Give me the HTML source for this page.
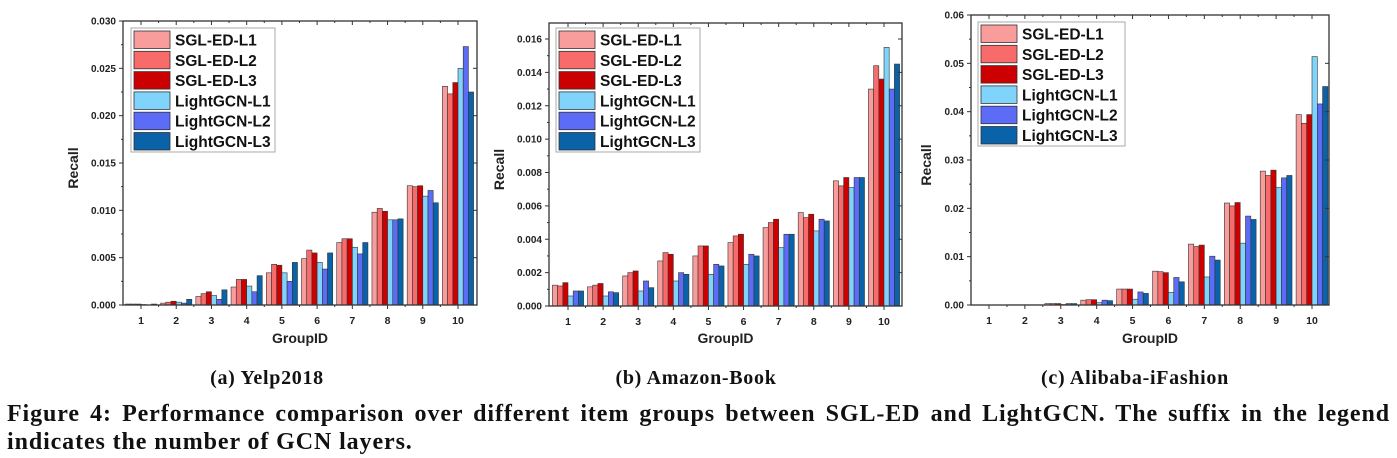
<!DOCTYPE html>
<html><head><meta charset="utf-8">
<style>
body{margin:0;background:#fff;width:1397px;height:458px;overflow:hidden;position:relative;font-family:"Liberation Sans",sans-serif}
svg{position:absolute;left:0;top:0}
.cap{position:absolute;transform:translateX(-50%);font-family:"Liberation Serif",serif;font-weight:bold;font-size:20px;letter-spacing:0.7px;color:#111;white-space:nowrap;line-height:22px}
.fig{position:absolute;left:7px;width:1383px;font-family:"Liberation Serif",serif;font-weight:bold;font-size:24px;letter-spacing:0.9px;color:#111;text-align:justify;text-align-last:justify;white-space:nowrap;line-height:26px}
</style></head><body>
<svg id="chart" width="1397" height="458"></svg>
<div class="cap" style="left:267px;top:367px">(a) Yelp2018</div>
<div class="cap" style="left:696px;top:367px">(b) Amazon-Book</div>
<div class="cap" style="left:1135px;top:367px">(c) Alibaba-iFashion</div>
<div class="fig" style="top:401px">Figure 4: Performance comparison over different item groups between SGL-ED and LightGCN. The suffix in the legend</div>
<div class="fig" style="top:429px;text-align-last:left;width:auto">indicates the number of GCN layers.</div>
<script>
const categories=["1","2","3","4","5","6","7","8","9","10"];
const seriesNames=["SGL-ED-L1","SGL-ED-L2","SGL-ED-L3","LightGCN-L1","LightGCN-L2","LightGCN-L3"];
const yelpValues=[
[0.0001,0.0002,0.0009,0.0019,0.0034,0.0049,0.0066,0.0098,0.0126,0.0231],
[0.0001,0.0003,0.0012,0.0027,0.0043,0.0058,0.0070,0.0102,0.0125,0.0223],
[0.0001,0.0004,0.0014,0.0027,0.0042,0.0055,0.0070,0.0099,0.0126,0.0235],
[0.00005,0.0003,0.0010,0.0020,0.0034,0.0045,0.0061,0.0090,0.0115,0.0250],
[0.00002,0.0002,0.0006,0.0014,0.0025,0.0038,0.0054,0.0090,0.0121,0.0273],
[0.0001,0.0006,0.0016,0.0031,0.0045,0.0055,0.0066,0.0091,0.0108,0.0225]];
const amazonValues=[
[0.00125,0.00115,0.0018,0.0027,0.0030,0.0038,0.0047,0.0056,0.0075,0.0130],
[0.0012,0.00125,0.0020,0.0032,0.0036,0.0042,0.0050,0.0053,0.0072,0.0144],
[0.0014,0.00135,0.0021,0.0031,0.0036,0.0043,0.0052,0.0055,0.0077,0.0136],
[0.0006,0.0006,0.0009,0.0015,0.0019,0.0025,0.0035,0.0045,0.0071,0.0155],
[0.0009,0.00085,0.0015,0.0020,0.0025,0.0031,0.0043,0.0052,0.0077,0.0130],
[0.0009,0.0008,0.0011,0.0019,0.0024,0.0030,0.0043,0.0051,0.0077,0.0145]];
const alibabaValues=[
[0,0.00005,0.0003,0.0010,0.0033,0.0070,0.0126,0.0211,0.0277,0.0394],
[0,0.00005,0.0003,0.0011,0.0033,0.0069,0.0121,0.0205,0.0268,0.0376],
[0,0.00005,0.0003,0.0011,0.0033,0.0067,0.0124,0.0212,0.0279,0.0394],
[0,0.00005,0.0001,0.0005,0.0012,0.0026,0.0058,0.0128,0.0243,0.0514],
[0,0.00005,0.0003,0.0010,0.0027,0.0057,0.0101,0.0184,0.0263,0.0416],
[0,0.00005,0.0003,0.0009,0.0024,0.0048,0.0093,0.0177,0.0268,0.0452]];
const yelpTicks=["0.000","0.005","0.010","0.015","0.020","0.025","0.030"];
const amazonTicks=["0.000","0.002","0.004","0.006","0.008","0.010","0.012","0.014","0.016"];
const alibabaTicks=["0.00","0.01","0.02","0.03","0.04","0.05","0.06"];
const colors=["#f99c9c","#f76b6b","#cc0000","#80d4fb","#5c6cf7","#0a62a8"];
const NS="http://www.w3.org/2000/svg";
const svg=document.getElementById('chart');
function mk(tag,attrs,parent){const e=document.createElementNS(NS,tag);for(const k in attrs)e.setAttribute(k,attrs[k]);(parent||svg).appendChild(e);return e;}
function drawChart(cfg,values,ticks,id){
  const g=mk('g',{});
  
  
  const y=v=>cfg.y0-(v-cfg.min)/(cfg.max-cfg.min)*(cfg.y0-cfg.yMaxPx);
  const x=i=>cfg.x1+(cfg.x10-cfg.x1)*i/(categories.length-1);
  const bw=cfg.bw;
  values.forEach((ser,s)=>{ser.forEach((v,i)=>{
    const cx=x(i)-3*bw+s*bw;
    const r=mk('rect',{x:cx,y:y(v),width:bw,height:Math.max(0,cfg.y0-y(v)),fill:colors[s],stroke:'#333','stroke-width':0.6},g);
    
    
  });});
  const fr=mk('rect',{x:cfg.left,y:cfg.top,width:cfg.right-cfg.left,height:cfg.y0-cfg.top,fill:'none',stroke:'#333','stroke-width':1.3},g);
  
  
  ticks.forEach((t,k)=>{
    const v=parseFloat(t),yy=y(v);
    mk('line',{x1:cfg.left-4,x2:cfg.left,y1:yy,y2:yy,stroke:'#333','stroke-width':1},g);
    mk('line',{x1:cfg.right-4,x2:cfg.right,y1:yy,y2:yy,stroke:'#333','stroke-width':1},g);
    if(k<ticks.length-1){const ym=y(v+(parseFloat(ticks[1])-parseFloat(ticks[0]))/2);
      mk('line',{x1:cfg.left-2,x2:cfg.left,y1:ym,y2:ym,stroke:'#333','stroke-width':1},g);}
    const tx=mk('text',{x:cfg.left-7,y:yy+3.5,'text-anchor':'end','font-size':10,'font-weight':'bold',fill:'#222'},g);
    tx.textContent=t;
    
    
  });
  categories.forEach((c,i)=>{
    const xx=x(i);
    mk('line',{x1:xx,x2:xx,y1:cfg.y0,y2:cfg.y0+4,stroke:'#333','stroke-width':1},g);
    mk('line',{x1:xx,x2:xx,y1:cfg.top,y2:cfg.top+4,stroke:'#333','stroke-width':1},g);
    const xm=xx+(x(1)-x(0))/2;
    if(i<categories.length-1){mk('line',{x1:xm,x2:xm,y1:cfg.y0,y2:cfg.y0+2,stroke:'#333'},g);mk('line',{x1:xm,x2:xm,y1:cfg.top,y2:cfg.top+2,stroke:'#333'},g);}
    const tx=mk('text',{x:xx,y:cfg.y0+19,'text-anchor':'middle','font-size':10.5,'font-weight':'bold',fill:'#222'},g);
    tx.textContent=c;
    
    
  });
  const xt=mk('text',{x:(cfg.left+cfg.right)/2,y:343,'text-anchor':'middle','font-size':14,'font-weight':'bold',fill:'#222'},g);
  xt.textContent='GroupID';
  
  
  const yt=mk('text',{x:0,y:0,'text-anchor':'middle','font-size':14,'font-weight':'bold',fill:'#222',transform:`translate(${cfg.ylabX},${(cfg.top+cfg.y0)/2+5}) rotate(-90)`},g);
  yt.textContent='Recall';
  
  
  const lg=mk('g',{},g);
  
  
  mk('rect',{x:cfg.lx,y:cfg.ly,width:cfg.lw,height:124,fill:'#fff',stroke:'#aaa','stroke-width':1},lg);
  seriesNames.forEach((n,s)=>{
    const ey=cfg.ly+3+s*20.3;
    const e=mk('g',{},lg);
    
    
    mk('rect',{x:cfg.lx+3,y:ey,width:36,height:17.5,fill:colors[s],stroke:'#333','stroke-width':0.8},e);
    const t=mk('text',{x:cfg.lx+44,y:ey+14.5,'font-size':15.5,'font-weight':'bold',fill:'#111'},e);
    t.textContent=n;
  });
}
drawChart({left:123,right:477,top:21,y0:305,yMaxPx:21,min:0,max:0.030,x1:141,x10:458,bw:5.2,ylabX:78,lx:131,ly:28,lw:144},yelpValues,yelpTicks,'yelp2018');
drawChart({left:549,right:902,top:23,y0:306,yMaxPx:39,min:0,max:0.016,x1:568,x10:884,bw:5.2,ylabX:504,lx:556,ly:28,lw:144},amazonValues,amazonTicks,'amazon-book');
drawChart({left:971,right:1329,top:15,y0:305,yMaxPx:15,min:0,max:0.06,x1:989,x10:1312,bw:5.3,ylabX:931,lx:978,ly:22,lw:147},alibabaValues,alibabaTicks,'alibaba-ifashion');
</script>
</body></html>
